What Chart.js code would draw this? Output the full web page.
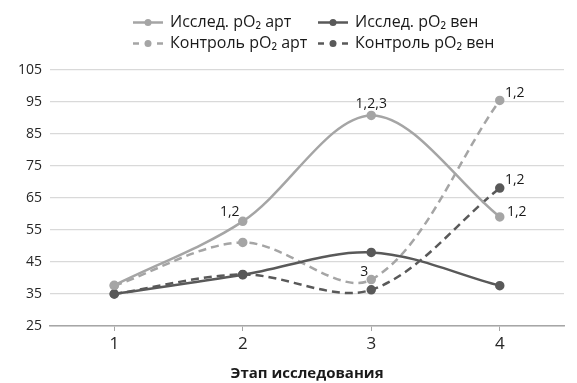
<!DOCTYPE html>
<html><head><meta charset="utf-8">
<script src="https://cdn.jsdelivr.net/npm/chart.js@4"></script>
<style>html,body{margin:0;padding:0;background:#fff}#wrap{width:577px;height:383px}</style>
</head><body><div id="wrap"><canvas id="c" width="577" height="383"></canvas></div>
<script>
const categories = ['1', '2', '3', '4'];
const seriesNames = ['Исслед. pO₂ арт', 'Исслед. pO₂ вен', 'Контроль pO₂ арт', 'Контроль pO₂ вен'];
const issledArt = [37.7, 57.7, 90.8, 59.1];
const issledVen = [35.0, 41.0, 48.0, 37.6];
const kontrArt = [37.6, 51.1, 39.5, 95.5];
const kontrVen = [35.0, 41.1, 36.3, 68.1];
const labelsIssledArt = ['', '1,2', '1,2,3', '1,2'];
const labelsIssledVen = ['', '', '', ''];
const labelsKontrArt = ['', '', '3', '1,2'];
const labelsKontrVen = ['', '', '', '1,2'];
const yTicks = [25, 35, 45, 55, 65, 75, 85, 95, 105];
const xTitle = 'Этап исследования';

const LIGHT = '#a5a5a5', DARK = '#595959';
const FONT = '"Open Sans", "Noto Sans", sans-serif';

const labelOffsets = [
  [null, [-13, -9], [0, -11], [17, -5]],
  [null, null, null, null],
  [null, null, [-7, -8], [15, -7]],
  [null, null, null, [15, -8]]
];
const allLabels = [labelsIssledArt, labelsIssledVen, labelsKontrArt, labelsKontrVen];

const dataLabelPlugin = {
  id: 'dl',
  afterDatasetsDraw(chart) {
    const ctx = chart.ctx;
    ctx.save();
    ctx.font = '14px ' + FONT;
    ctx.fillStyle = '#1a1a1a';
    ctx.textAlign = 'center';
    ctx.textBaseline = 'middle';
    chart.data.datasets.forEach((ds, di) => {
      const meta = chart.getDatasetMeta(di);
      allLabels[di].forEach((t, i) => {
        if (!t) return;
        const p = meta.data[i];
        const o = labelOffsets[di][i] || [0, -10];
        ctx.fillText(t, p.x + o[0], p.y + o[1]);
      });
    });
    ctx.restore();
  }
};

const legendPlugin = {
  id: 'customLegend',
  afterDraw(chart) {
    const ctx = chart.ctx;
    const pos = [[133, 22.5], [318, 22.5], [133, 43.5], [318, 43.5]];
    ctx.save();
    chart.data.datasets.forEach((ds, i) => {
      const [x, y] = pos[i];
      ctx.strokeStyle = ds.borderColor;
      ctx.lineWidth = 2.5;
      ctx.beginPath();
      if (ds.borderDash) {
        ctx.moveTo(x, y); ctx.lineTo(x + 6, y);
        ctx.moveTo(x + 24, y); ctx.lineTo(x + 30, y);
      } else {
        ctx.moveTo(x, y); ctx.lineTo(x + 30, y);
      }
      ctx.stroke();
      ctx.fillStyle = ds.borderColor;
      ctx.beginPath(); ctx.arc(x + 15, y, 3.5, 0, Math.PI * 2); ctx.fill();
      ctx.fillStyle = '#1a1a1a';
      ctx.font = '16px ' + FONT;
      ctx.textAlign = 'left';
      ctx.textBaseline = 'middle';
      ctx.fillText(ds.label, x + 37, y);
    });
    ctx.restore();
  }
};

function mk(label, data, color, dashed) {
  return {
    label, data,
    borderColor: color, backgroundColor: color,
    pointBackgroundColor: color, pointBorderColor: color,
    borderWidth: 2.5, pointRadius: 3.5, pointHoverRadius: 3.5,
    borderDash: dashed ? [8, 5] : undefined,
    tension: 0.33, fill: false
  };
}

new Chart(document.getElementById('c'), {
  type: 'line',
  data: {
    labels: categories,
    datasets: [
      mk(seriesNames[0], issledArt, LIGHT, false),
      mk(seriesNames[1], issledVen, DARK, false),
      mk(seriesNames[2], kontrArt, LIGHT, true),
      mk(seriesNames[3], kontrVen, DARK, true)
    ]
  },
  options: {
    responsive: false, animation: false,
    layout: { padding: { top: 70, right: 13, left: 0, bottom: 0 } },
    plugins: { legend: { display: false }, tooltip: { enabled: false } },
    scales: {
      x: {
        offset: true,
        grid: { display: true, drawOnChartArea: false, drawTicks: true, tickLength: 5, offset: false, color: '#a6a6a6' },
        border: { display: true, color: '#a6a6a6', width: 1.5 },
        ticks: { color: '#262626', font: { family: FONT, size: 17 }, padding: 3 },
        title: { display: true, text: xTitle, color: '#1a1a1a', font: { family: FONT, size: 15, weight: 'bold' }, padding: { top: 0, bottom: 0 } },
        afterFit(s) { s.height = 57; }
      },
      y: {
        min: 25, max: 105,
        afterBuildTicks(s) { s.ticks = yTicks.map(v => ({ value: v })); },
        grid: { color: '#d9d9d9', lineWidth: 1.2, drawTicks: false },
        border: { display: false },
        ticks: { color: '#262626', font: { family: FONT, size: 14 }, padding: 8 },
        afterFit(s) { s.width = 50; }
      }
    }
  },
  plugins: [dataLabelPlugin, legendPlugin]
});
</script>
</body></html>
